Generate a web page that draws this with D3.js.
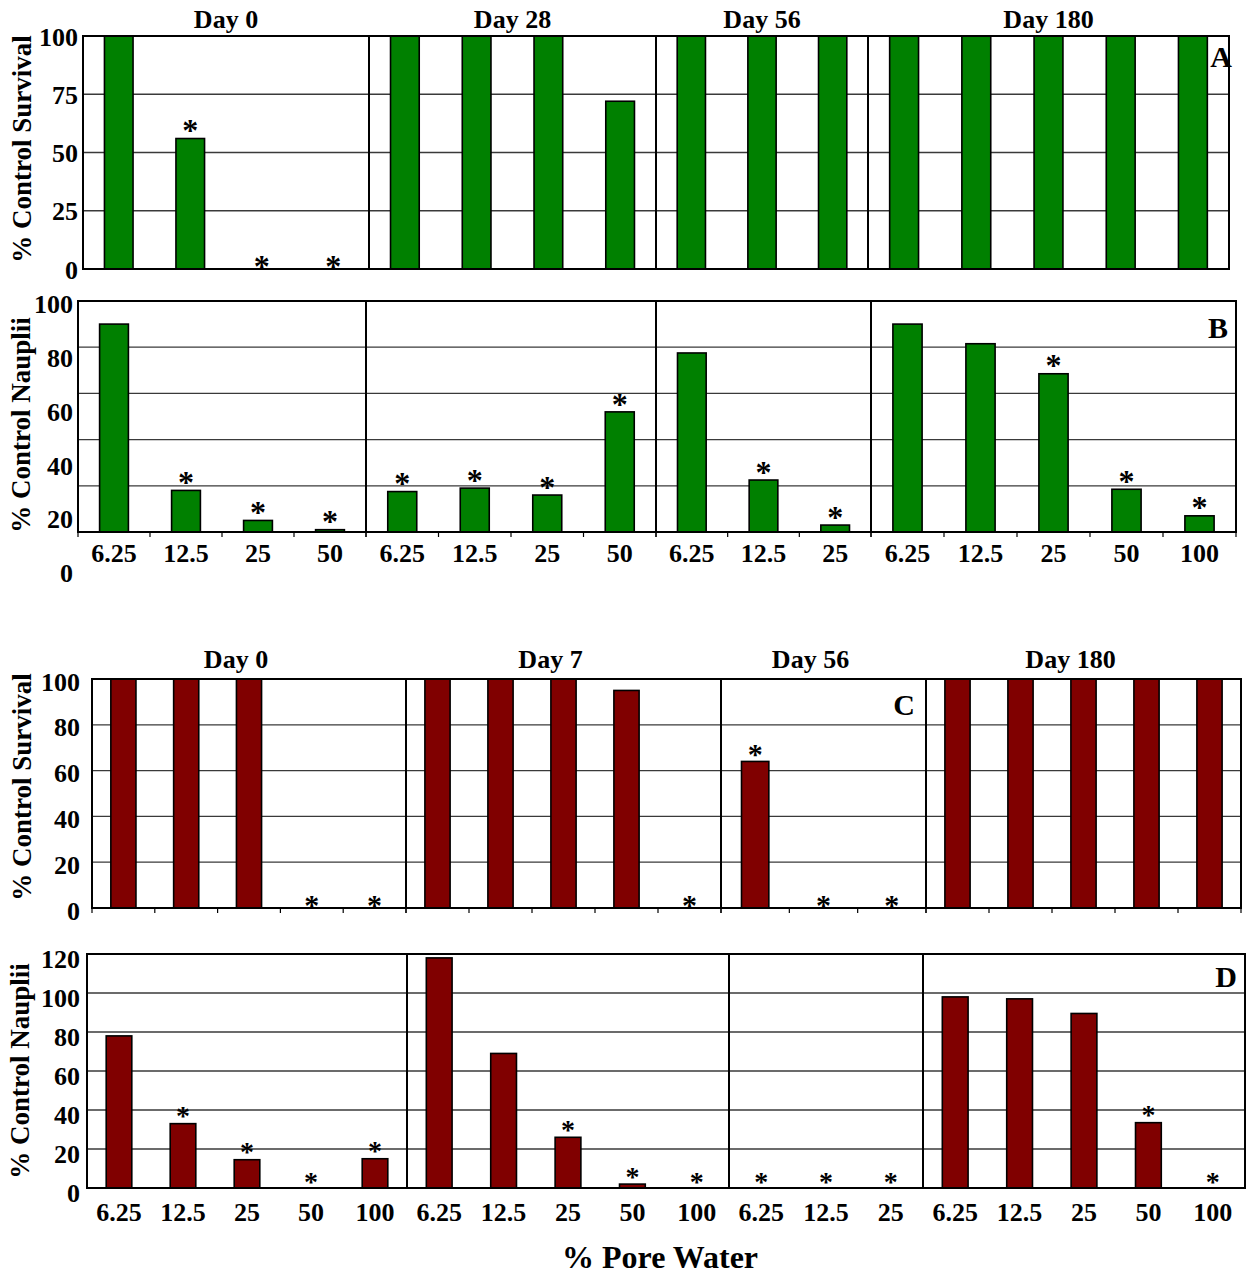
<!DOCTYPE html>
<html>
<head>
<meta charset="utf-8">
<script src="https://cdn.jsdelivr.net/npm/d3@7"></script>
<style>
  body { margin: 0; background: #fff; }
  text { font-family: "Liberation Serif", "Times New Roman", serif; font-weight: bold; fill: #000; }
</style>
</head>
<body>
<svg id="chart" width="1255" height="1275"></svg>
<script>
// ---- Data -------------------------------------------------------------
const daysAB = ["Day 0", "Day 28", "Day 56", "Day 180"];
const daysCD = ["Day 0", "Day 7", "Day 56", "Day 180"];

const concAB = [
  ["6.25", "12.5", "25", "50"],
  ["6.25", "12.5", "25", "50"],
  ["6.25", "12.5", "25"],
  ["6.25", "12.5", "25", "50", "100"]
];
const concCD = [
  ["6.25", "12.5", "25", "50", "100"],
  ["6.25", "12.5", "25", "50", "100"],
  ["6.25", "12.5", "25"],
  ["6.25", "12.5", "25", "50", "100"]
];

// A: % control survival (green series)
const survivalA = [[100, 56, 0, 0], [100, 100, 100, 72], [100, 100, 100], [100, 100, 100, 100, 100]];
const starsA    = [[0, 1, 1, 1], [0, 0, 0, 0], [0, 0, 0], [0, 0, 0, 0, 0]];

// B: % control nauplii (green series)
const naupliiB = [[90, 18, 5, 1], [17.5, 19, 16, 52], [77.5, 22.5, 3], [90, 81.5, 68.5, 18.5, 7]];
const starsB   = [[0, 1, 1, 1], [1, 1, 1, 1], [0, 1, 1], [0, 0, 1, 1, 1]];

// C: % control survival (dark red series)
const survivalC = [[100, 100, 100, 0, 0], [100, 100, 100, 95, 0], [64, 0, 0], [100, 100, 100, 100, 100]];
const starsC    = [[0, 0, 0, 1, 1], [0, 0, 0, 0, 1], [1, 1, 1], [0, 0, 0, 0, 0]];

// D: % control nauplii (dark red series)
const naupliiD = [[78, 33, 14.5, 0, 15], [118, 69, 26, 2, 0], [0, 0, 0], [98, 97, 89.5, 33.5, 0]];
const starsD   = [[0, 1, 1, 1, 1], [0, 0, 1, 1, 1], [1, 1, 1], [0, 0, 0, 1, 1]];

const yTicksA = [0, 25, 50, 75, 100];
const yTicksB = [0, 20, 40, 60, 80, 100];
const yTicksC = [0, 20, 40, 60, 80, 100];
const yTicksD = [0, 20, 40, 60, 80, 100, 120];

// ---- Layout -----------------------------------------------------------
const GREEN = "#008000";
const MAROON = "#800000";

const panels = [
  { letter: "A", days: daysAB, cats: concAB, values: survivalA, stars: starsA, ticks: yTicksA, yMax: 100,
    color: GREEN, top: 36, bottom: 269, edges: [83, 369, 656, 868, 1229],
    yTitle: "% Control Survival", yTitleX: 22, yTitleY: 149, labelX: 78, labelShift: 0,
    dayTitleY: 28, dayTitleDx: 0, xLabelsY: null, tickMarks: false,
    letterX: 1232, letterY: 67, starSize: 32, zeroGap: 1 },
  { letter: "B", days: null, cats: concAB, values: naupliiB, stars: starsB, ticks: yTicksB, yMax: 100,
    color: GREEN, top: 301, bottom: 532, edges: [78, 366, 656, 871, 1236],
    yTitle: "% Control Nauplii", yTitleX: 21, yTitleY: 425, labelX: 73, labelRange: [572.5, 303.5],
    dayTitleY: null, xLabelsY: 562, tickMarks: true,
    letterX: 1228, letterY: 338, starSize: 32, zeroGap: 1 },
  { letter: "C", days: daysCD, cats: concCD, values: survivalC, stars: starsC, ticks: yTicksC, yMax: 100,
    color: MAROON, top: 679, bottom: 908, edges: [92, 406, 721, 926, 1241],
    yTitle: "% Control Survival", yTitleX: 22, yTitleY: 787, labelX: 80, labelShift: 2,
    dayTitleY: 668, dayTitleDx: -13, xLabelsY: null, tickMarks: true,
    letterX: 915, letterY: 715, starSize: 30, zeroGap: 1 },
  { letter: "D", days: null, cats: concCD, values: naupliiD, stars: starsD, ticks: yTicksD, yMax: 120,
    color: MAROON, top: 954, bottom: 1188, edges: [87, 407, 729, 923, 1245],
    yTitle: "% Control Nauplii", yTitleX: 20, yTitleY: 1071, labelX: 80, labelShift: 4,
    dayTitleY: null, xLabelsY: 1221, tickMarks: false,
    letterX: 1237, letterY: 987, starSize: 28, zeroGap: 5 }
];

const svg = d3.select("#chart");
svg.append("rect").attr("width", 1255).attr("height", 1275).attr("fill", "#fff");

const FONT = 26;

panels.forEach(p => {
  const g = svg.append("g").attr("class", "panel-" + p.letter);
  const left = p.edges[0], right = p.edges[p.edges.length - 1];
  const y = d3.scaleLinear().domain([0, p.yMax]).range([p.bottom, p.top]);

  // horizontal gridlines
  g.append("g").selectAll("line")
    .data(p.ticks.filter(t => t > 0 && t < p.yMax))
    .join("line")
    .attr("x1", left).attr("x2", right)
    .attr("y1", d => y(d)).attr("y2", d => y(d))
    .attr("stroke", "#3a3a3a").attr("stroke-width", 1.3);

  // y tick labels
  const yLab = p.labelRange
    ? d3.scaleLinear().domain([0, p.yMax]).range(p.labelRange)
    : d3.scaleLinear().domain([0, p.yMax]).range([p.bottom + p.labelShift, p.top + p.labelShift]);
  const yAxis = g.append("g")
    .attr("transform", `translate(${p.labelX},0)`)
    .call(d3.axisLeft(yLab).tickValues(p.ticks).tickSize(0).tickPadding(0).tickFormat(d3.format("d")));
  yAxis.select(".domain").remove();
  yAxis.selectAll("text")
    .attr("x", 0).attr("dy", "0.35em")
    .style("font-size", FONT + "px")
    .style("font-family", '"Liberation Serif", serif').style("font-weight", "bold").attr("fill", "#000");

  p.cats.forEach((cats, i) => {
    const x = d3.scaleBand().domain(cats)
      .range([p.edges[i], p.edges[i + 1]])
      .paddingInner(0.6).paddingOuter(0.3);
    const rows = cats.map((c, j) => ({ c, v: p.values[i][j], s: p.stars[i][j] }));

    // bars
    g.append("g").selectAll("rect")
      .data(rows.filter(d => d.v > 0))
      .join("rect")
      .attr("x", d => x(d.c))
      .attr("width", x.bandwidth())
      .attr("y", d => y(d.v))
      .attr("height", d => y(0) - y(d.v))
      .attr("fill", p.color)
      .attr("stroke", "#000").attr("stroke-width", 1.6);

    // significance asterisks
    g.append("g").selectAll("text")
      .data(rows.filter(d => d.s))
      .join("text")
      .attr("x", d => x(d.c) + x.bandwidth() / 2)
      .attr("y", d => y(d.v) - (d.v > 0 ? 6 : p.zeroGap) + 0.27 * p.starSize)
      .attr("text-anchor", "middle")
      .style("font-size", p.starSize + "px")
      .text("*");

    // tick marks at category boundaries
    if (p.tickMarks) {
      const step = x.step();
      const bounds = cats.map(c => x(c) - step * 0.3).concat([p.edges[i + 1]]);
      g.append("g").selectAll("line")
        .data(bounds)
        .join("line")
        .attr("x1", d => d).attr("x2", d => d)
        .attr("y1", p.bottom).attr("y2", p.bottom + 5)
        .attr("stroke", "#000").attr("stroke-width", 1.2);
    }

    // concentration labels
    if (p.xLabelsY) {
      const xa = g.append("g")
        .attr("transform", `translate(0,${p.xLabelsY})`)
        .call(d3.axisBottom(x).tickSize(0));
      xa.select(".domain").remove();
      xa.selectAll("text")
        .attr("y", 0).attr("dy", 0)
        .style("font-size", FONT + "px")
        .style("font-family", '"Liberation Serif", serif').style("font-weight", "bold").attr("fill", "#000");
    }

    // sampling-day headings
    if (p.days) {
      g.append("text")
        .attr("x", (p.edges[i] + p.edges[i + 1]) / 2 + p.dayTitleDx)
        .attr("y", p.dayTitleY)
        .attr("text-anchor", "middle")
        .style("font-size", FONT + "px")
        .text(p.days[i]);
    }
  });

  // frame and day separators
  g.append("rect")
    .attr("x", left).attr("y", p.top)
    .attr("width", right - left).attr("height", p.bottom - p.top)
    .attr("fill", "none").attr("stroke", "#000").attr("stroke-width", 2);
  g.append("g").selectAll("line")
    .data(p.edges.slice(1, -1))
    .join("line")
    .attr("x1", d => d).attr("x2", d => d)
    .attr("y1", p.top).attr("y2", p.bottom)
    .attr("stroke", "#000").attr("stroke-width", 2);

  // panel letter
  g.append("text")
    .attr("x", p.letterX).attr("y", p.letterY)
    .attr("text-anchor", "end")
    .style("font-size", "30px")
    .text(p.letter);

  // y-axis title
  g.append("text")
    .attr("transform", `translate(${p.yTitleX},${p.yTitleY}) rotate(-90)`)
    .attr("text-anchor", "middle")
    .attr("dominant-baseline", "central")
    .style("font-size", "27px")
    .text(p.yTitle);
});

// x-axis title
svg.append("text")
  .attr("x", 660).attr("y", 1268)
  .attr("text-anchor", "middle")
  .style("font-size", "32px")
  .text("% Pore Water");
</script>
</body>
</html>
